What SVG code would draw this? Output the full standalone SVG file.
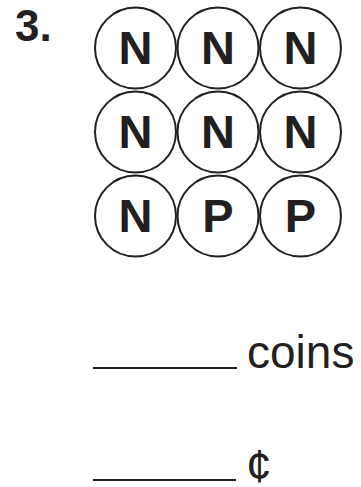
<svg xmlns="http://www.w3.org/2000/svg" width="361" height="487" viewBox="0 0 361 487">
<style>
.coin{fill:none;stroke:#231f20;stroke-width:2}
.l{font-family:"Liberation Sans",Arial,sans-serif;font-weight:bold;font-size:47px;fill:#231f20;text-anchor:middle}
.t{font-family:"Liberation Sans",Arial,sans-serif;font-size:46px;fill:#231f20}
.line{stroke:#231f20;stroke-width:2}
</style>
<rect width="361" height="487" fill="#fff"/>
<text x="15" y="41" style="font-family:'Liberation Sans',Arial,sans-serif;font-weight:bold;font-size:44px;fill:#231f20">3.</text>
<g id="c1"><circle class="coin" cx="135.5" cy="48" r="40.5"/><text class="l" x="135.5" y="64">N</text></g>
<g id="c2"><circle class="coin" cx="218" cy="48" r="40.5"/><text class="l" x="218" y="64">N</text></g>
<g id="c3"><circle class="coin" cx="300.5" cy="48" r="40.5"/><text class="l" x="300.5" y="64">N</text></g>
<g id="c4"><circle class="coin" cx="135.5" cy="132" r="40.5"/><text class="l" x="135.5" y="148">N</text></g>
<g id="c5"><circle class="coin" cx="218" cy="132" r="40.5"/><text class="l" x="218" y="148">N</text></g>
<g id="c6"><circle class="coin" cx="300.5" cy="132" r="40.5"/><text class="l" x="300.5" y="148">N</text></g>
<g id="c7"><circle class="coin" cx="135.5" cy="216" r="40.5"/><text class="l" x="135.5" y="232">N</text></g>
<g id="c8"><circle class="coin" cx="218" cy="216" r="40.5"/><text class="l" x="218" y="232">P</text></g>
<g id="c9"><circle class="coin" cx="300.5" cy="216" r="40.5"/><text class="l" x="300.5" y="232">P</text></g>
<line class="line" x1="93" y1="368" x2="237" y2="368"/>
<text class="t" x="247" y="368">coins</text>
<line class="line" x1="93" y1="480" x2="236" y2="480"/>
<text class="t" x="246" y="482">¢</text>
</svg>
